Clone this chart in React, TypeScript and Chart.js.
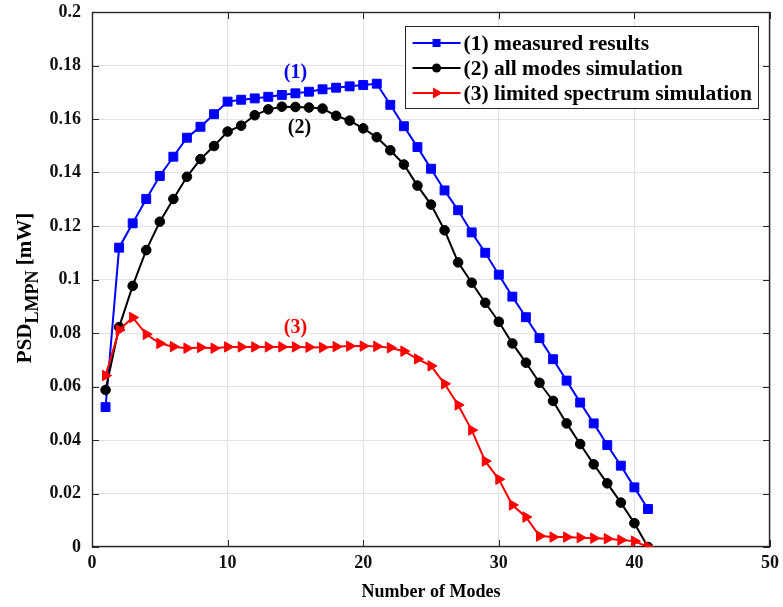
import React, { useEffect, useRef } from "react";
import { Chart, registerables } from "chart.js";

Chart.register(...registerables);

const FONT = '"Liberation Serif", "Times New Roman", Times, serif';

const modes = [
  1, 2, 3, 4, 5, 6, 7, 8, 9, 10, 11, 12, 13, 14, 15, 16, 17, 18, 19, 20, 21,
  22, 23, 24, 25, 26, 27, 28, 29, 30, 31, 32, 33, 34, 35, 36, 37, 38, 39, 40, 41,
];

const measuredResults = [
  0.0523, 0.1119, 0.121, 0.1301, 0.1387, 0.1459, 0.153, 0.1571, 0.1618, 0.1665,
  0.1672, 0.1677, 0.1683, 0.169, 0.1696, 0.1702, 0.1711, 0.1717, 0.1722, 0.1727,
  0.1732, 0.1653, 0.1573, 0.1495, 0.1414, 0.1333, 0.1259, 0.1176, 0.11, 0.1018,
  0.0936, 0.0859, 0.0781, 0.0702, 0.0622, 0.054, 0.0462, 0.0381, 0.0304, 0.0223,
  0.0142,
];

const allModesSimulation = [
  0.0587, 0.0822, 0.0976, 0.111, 0.1216, 0.1301, 0.1384, 0.145, 0.1499, 0.1553,
  0.1575, 0.1614, 0.1636, 0.1646, 0.1645, 0.1643, 0.1639, 0.1612, 0.1594, 0.1565,
  0.1532, 0.1483, 0.143, 0.1351, 0.128, 0.1184, 0.1064, 0.0988, 0.0913, 0.0842,
  0.0761, 0.0689, 0.0614, 0.0546, 0.0462, 0.0385, 0.0309, 0.0238, 0.0166, 0.0089,
  0.0,
];

const limitedSpectrumSimulation = [
  0.0641, 0.0811, 0.0858, 0.0795, 0.0761, 0.0749, 0.0743, 0.0746, 0.0743, 0.0748,
  0.0748, 0.0748, 0.0748, 0.0748, 0.0748, 0.0747, 0.0746, 0.0749, 0.0751, 0.0751,
  0.075, 0.0745, 0.0732, 0.0703, 0.0677, 0.061, 0.0531, 0.0437, 0.0321, 0.0253,
  0.0157, 0.0112, 0.0041, 0.0037, 0.0037, 0.0035, 0.0033, 0.0031, 0.0026, 0.0022,
  0.0,
];

const xTickValues = [0, 10, 20, 30, 40, 50];
const yTickValues = [0, 0.02, 0.04, 0.06, 0.08, 0.1, 0.12, 0.14, 0.16, 0.18, 0.2];

const xAxisTitle = "Number of Modes";
const yAxisTitleMain = "PSD";
const yAxisTitleSub = "LMPN";
const yAxisTitleUnit = " [mW]";

const seriesLabels = [
  "(1) measured results",
  "(2) all modes simulation",
  "(3) limited spectrum simulation",
];
const seriesColors = ["#0000ff", "#000000", "#ff0000"];
const seriesMarkers = ["rect", "circle", "triangle"];

// curve tags, placed in data coordinates
const curveTags = [
  { text: "(1)", mode: 15, value: 0.1772 },
  { text: "(2)", mode: 15.3, value: 0.1566 },
  { text: "(3)", mode: 15, value: 0.0819 },
];

const AXIS_COLOR = "#262626";

function drawMarker(ctx: CanvasRenderingContext2D, kind: string, x: number, y: number, color: string) {
  ctx.save();
  ctx.fillStyle = color;
  ctx.beginPath();
  if (kind === "rect") {
    ctx.rect(x - 4, y - 4, 8, 8);
  } else if (kind === "circle") {
    ctx.arc(x, y, 4.5, 0, Math.PI * 2);
  } else {
    ctx.moveTo(x + 6, y);
    ctx.lineTo(x - 3.5, y - 5.5);
    ctx.lineTo(x - 3.5, y + 5.5);
    ctx.closePath();
  }
  ctx.fill();
  ctx.restore();
}

const framePlugin = {
  id: "matlabFrame",
  beforeDatasetsDraw(chart: any) {
    const { ctx, chartArea: a, scales } = chart;
    const xs = scales.x;
    const ys = scales.y;
    ctx.save();
    ctx.strokeStyle = AXIS_COLOR;
    ctx.lineWidth = 1;
    ctx.beginPath();
    for (const v of xTickValues) {
      const px = Math.round(xs.getPixelForValue(v)) + 0.5;
      ctx.moveTo(px, a.bottom);
      ctx.lineTo(px, a.bottom - 7);
      ctx.moveTo(px, a.top);
      ctx.lineTo(px, a.top + 7);
    }
    for (const v of yTickValues) {
      const py = Math.round(ys.getPixelForValue(v)) + 0.5;
      ctx.moveTo(a.left, py);
      ctx.lineTo(a.left + 7, py);
      ctx.moveTo(a.right, py);
      ctx.lineTo(a.right - 7, py);
    }
    ctx.stroke();
    ctx.lineWidth = 1.4;
    ctx.strokeRect(a.left + 0.5, a.top + 0.5, a.right - a.left - 1, a.bottom - a.top - 1);
    ctx.restore();
  },
  afterDraw(chart: any) {
    const { ctx, chartArea: a, scales } = chart;
    const xs = scales.x;
    const ys = scales.y;
    ctx.save();

    // axis titles
    ctx.fillStyle = "#000";
    ctx.font = `bold 18px ${FONT}`;
    ctx.textAlign = "center";
    ctx.textBaseline = "middle";
    ctx.fillText(xAxisTitle, (a.left + a.right) / 2, 592);

    const mainFont = `bold 21px ${FONT}`;
    const subFont = `bold 18px ${FONT}`;
    ctx.font = mainFont;
    const wMain = ctx.measureText(yAxisTitleMain).width;
    const wUnit = ctx.measureText(yAxisTitleUnit).width;
    ctx.font = subFont;
    const wSub = ctx.measureText(yAxisTitleSub).width;
    const total = wMain + wSub + wUnit;
    ctx.translate(31, 288);
    ctx.rotate(-Math.PI / 2);
    ctx.textAlign = "left";
    ctx.textBaseline = "alphabetic";
    let cx = -total / 2;
    ctx.font = mainFont;
    ctx.fillText(yAxisTitleMain, cx, 0);
    cx += wMain;
    ctx.font = subFont;
    ctx.fillText(yAxisTitleSub, cx, 7);
    cx += wSub;
    ctx.font = mainFont;
    ctx.fillText(yAxisTitleUnit, cx, 0);
    ctx.setTransform(1, 0, 0, 1, 0, 0);

    // curve tags
    ctx.font = `bold 20px ${FONT}`;
    ctx.textAlign = "center";
    ctx.textBaseline = "middle";
    curveTags.forEach((t, i) => {
      ctx.fillStyle = seriesColors[i];
      ctx.fillText(t.text, xs.getPixelForValue(t.mode), ys.getPixelForValue(t.value));
    });

    // legend
    ctx.font = `bold 21.5px ${FONT}`;
    const textW = Math.max(...seriesLabels.map((s) => ctx.measureText(s).width));
    const boxW = 59 + textW + 6;
    const boxH = 82;
    const boxR = a.right - 12;
    const boxL = boxR - boxW;
    const boxT = a.top + 14;
    ctx.fillStyle = "#fff";
    ctx.fillRect(boxL, boxT, boxW, boxH);
    ctx.strokeStyle = AXIS_COLOR;
    ctx.lineWidth = 1;
    ctx.strokeRect(Math.round(boxL) + 0.5, boxT + 0.5, Math.round(boxW), boxH);
    seriesLabels.forEach((label, i) => {
      const ry = boxT + 17 + i * 25;
      ctx.strokeStyle = seriesColors[i];
      ctx.lineWidth = 2;
      ctx.beginPath();
      ctx.moveTo(boxL + 8, ry);
      ctx.lineTo(boxL + 56, ry);
      ctx.stroke();
      drawMarker(ctx, seriesMarkers[i], boxL + 32, ry, seriesColors[i]);
      ctx.fillStyle = "#000";
      ctx.textAlign = "left";
      ctx.textBaseline = "middle";
      ctx.fillText(label, boxL + 59, ry + 1);
    });
    ctx.restore();
  },
};

function makeDataset(
  label: string,
  values: number[],
  color: string,
  pointStyle: string,
  radius: number,
  rotation: number,
  order: number
) {
  return {
    label,
    data: modes.map((m, i) => ({ x: m, y: values[i] })),
    borderColor: color,
    backgroundColor: color,
    borderWidth: 2,
    pointStyle,
    pointRadius: radius,
    pointRotation: rotation,
    pointBorderWidth: 1,
    pointBorderColor: color,
    pointBackgroundColor: color,
    tension: 0,
    order,
  };
}

export default function App() {
  const canvasRef = useRef<HTMLCanvasElement | null>(null);

  useEffect(() => {
    if (!canvasRef.current) return;
    const tickFont = { family: FONT, size: 18, weight: "bold" as const };
    const chart = new Chart(canvasRef.current, {
      type: "line",
      data: {
        datasets: [
          makeDataset(seriesLabels[0], measuredResults, seriesColors[0], "rect", 6.3, 0, 3),
          makeDataset(seriesLabels[1], allModesSimulation, seriesColors[1], "circle", 4.8, 0, 2),
          makeDataset(seriesLabels[2], limitedSpectrumSimulation, seriesColors[2], "triangle", 6, 90, 1),
        ],
      },
      options: {
        responsive: false,
        animation: false,
        devicePixelRatio: 1,
        layout: { padding: { top: 12, right: 13, left: 0, bottom: 0 } },
        plugins: {
          legend: { display: false },
          tooltip: { enabled: false },
        },
        scales: {
          x: {
            type: "linear",
            min: 0,
            max: 50,
            afterBuildTicks: (s: any) => {
              s.ticks = xTickValues.map((v) => ({ value: v }));
            },
            afterFit: (s: any) => {
              s.height = 60;
              s.paddingLeft = 0;
              s.paddingRight = 0;
            },
            grid: { color: "#e2e2e2", drawTicks: false, lineWidth: 1 },
            border: { display: false },
            ticks: {
              padding: 6,
              color: "#111",
              font: tickFont,
              maxRotation: 0,
              autoSkip: false,
              callback: (v: any) => String(v),
            },
          },
          y: {
            type: "linear",
            min: 0,
            max: 0.2,
            afterBuildTicks: (s: any) => {
              s.ticks = yTickValues.map((v) => ({ value: v }));
            },
            afterFit: (s: any) => {
              s.width = 92;
              s.paddingTop = 0;
              s.paddingBottom = 0;
            },
            grid: { color: "#e2e2e2", drawTicks: false, lineWidth: 1 },
            border: { display: false },
            ticks: {
              padding: 11,
              color: "#111",
              font: tickFont,
              autoSkip: false,
              callback: (v: any) => String(parseFloat(Number(v).toFixed(2))),
            },
          },
        },
      },
      plugins: [framePlugin],
    } as any);
    return () => chart.destroy();
  }, []);

  return (
    <div style={{ position: "fixed", left: 0, top: 0, width: 783, height: 607, background: "#fff" }}>
      <canvas ref={canvasRef} width={783} height={607} style={{ display: "block" }} />
    </div>
  );
}
